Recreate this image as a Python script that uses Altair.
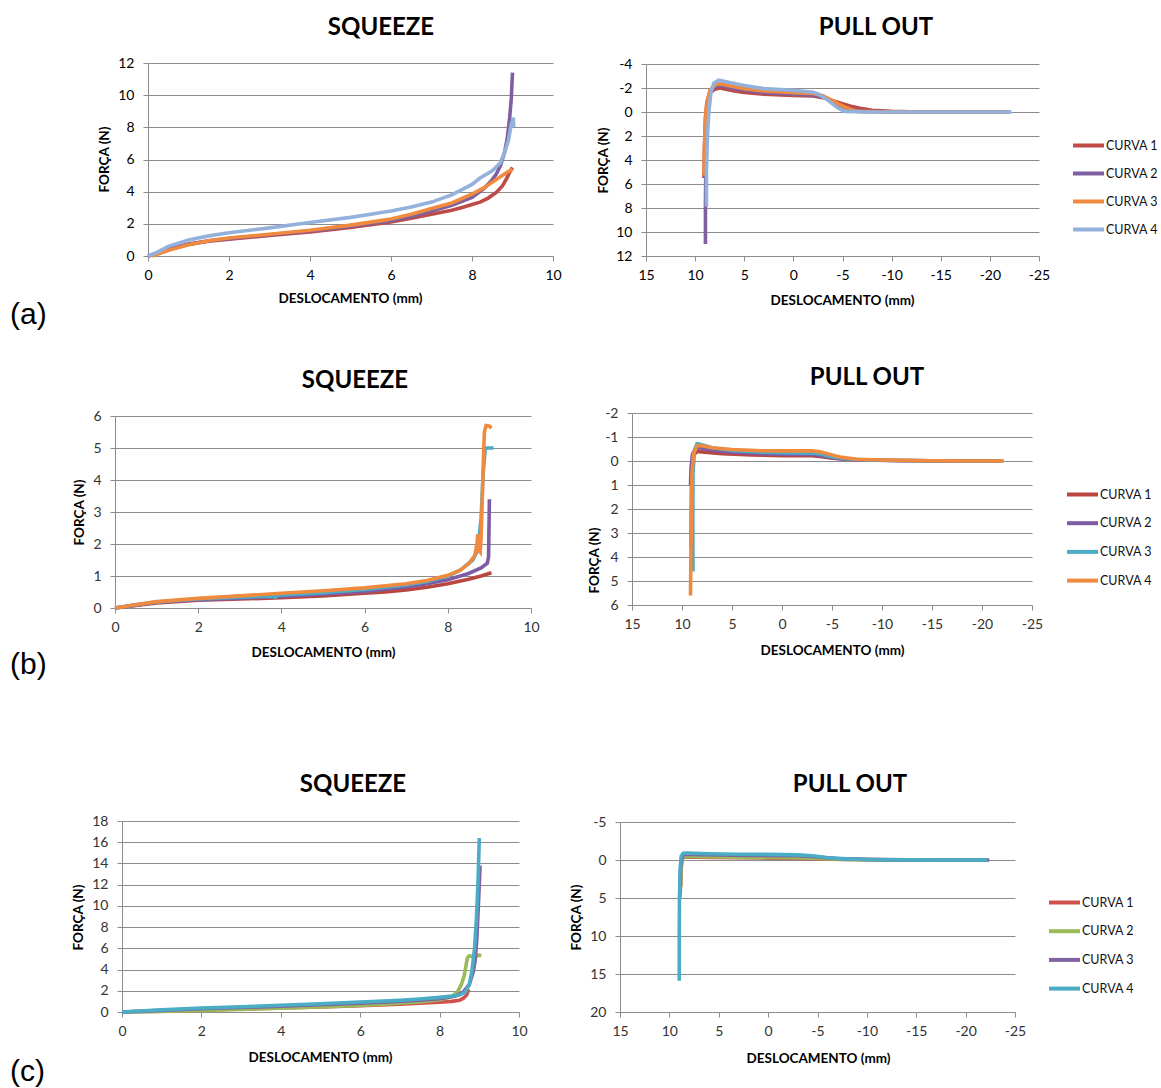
import altair as alt
import pandas as pd

W, H = 1161, 1088
FONT = "Lato"
GRID = "#8C8C8C"
NAMES = ["CURVA 1", "CURVA 2", "CURVA 3", "CURVA 4"]

# ---------------- (a) squeeze: (deslocamento mm, força N) ----------------
A_SQ_1 = [(0, 0), (0.3, 0.2), (0.6, 0.45), (1, 0.72), (1.5, 0.92), (2, 1.05), (3, 1.28), (4, 1.5),
          (5, 1.78), (5.5, 1.95), (6, 2.12), (6.5, 2.35), (7, 2.6), (7.5, 2.85), (7.8, 3.05), (8, 3.2),
          (8.2, 3.35), (8.4, 3.6), (8.6, 3.95), (8.75, 4.35), (8.85, 4.8), (8.95, 5.3), (9.0, 5.5)]
A_SQ_2 = [(0, 0), (0.3, 0.22), (0.6, 0.48), (1, 0.75), (1.5, 0.95), (2, 1.08), (3, 1.32), (4, 1.55),
          (5, 1.85), (6, 2.2), (6.5, 2.45), (7, 2.8), (7.5, 3.15), (8, 3.65), (8.3, 4.2), (8.5, 4.75),
          (8.6, 5.1), (8.7, 5.6), (8.8, 6.4), (8.87, 7.3), (8.93, 8.6), (8.97, 9.8), (9.0, 11.4)]
A_SQ_3 = [(0.1, 0), (0.5, 0.35), (1, 0.7), (1.5, 0.95), (2, 1.12), (3, 1.35), (4, 1.6), (5, 1.92),
          (5.75, 2.2), (6, 2.3), (6.5, 2.6), (7, 2.95), (7.5, 3.3), (8, 3.85), (8.3, 4.25), (8.6, 4.75),
          (8.8, 5.1), (9.0, 5.4)]
A_SQ_4 = [(0, 0), (0.2, 0.2), (0.5, 0.6), (1, 1.0), (1.5, 1.25), (2, 1.45), (3, 1.75), (4, 2.08),
          (5, 2.4), (5.5, 2.6), (6, 2.8), (6.5, 3.05), (7, 3.35), (7.5, 3.8), (8, 4.45), (8.2, 4.85),
          (8.5, 5.3), (8.7, 5.8), (8.8, 6.4), (8.9, 7.2), (8.97, 8.2), (9.02, 8.6), (9.03, 8.0)]

# ---------------- (a) pull out ----------------
A_PO_1 = [(9.1, 5.5), (9.05, 3), (8.95, 0.5), (8.8, -0.8), (8.5, -1.6), (8.0, -1.9), (7.5, -2.0),
          (6, -1.75), (5, -1.62), (3, -1.48), (0, -1.38), (-2, -1.33), (-3, -1.2), (-4, -0.95),
          (-5, -0.7), (-6, -0.45), (-7, -0.28), (-8, -0.15), (-10, -0.05), (-12, -0.02), (-22, -0.02)]
A_PO_2 = [(8.95, 11.0), (8.95, 7.8), (8.9, 4), (8.8, 1), (8.65, -0.8), (8.4, -1.7), (8.0, -2.1),
          (7.5, -2.2), (6, -1.95), (5, -1.82), (3, -1.6), (0, -1.48), (-2, -1.42), (-3, -1.25),
          (-4, -0.85), (-5, -0.45), (-6, -0.15), (-7, -0.05), (-10, 0), (-22, 0)]
A_PO_3 = [(9.1, 5.3), (9.05, 3), (8.95, 0.5), (8.8, -0.8), (8.5, -1.8), (8.0, -2.25), (7.5, -2.35),
          (6, -2.1), (5, -1.95), (3, -1.75), (0, -1.6), (-2, -1.55), (-3, -1.35), (-4, -0.95),
          (-5, -0.5), (-6, -0.15), (-6.5, -0.05), (-10, 0), (-22, 0)]
A_PO_4 = [(8.85, 7.9), (8.85, 5), (8.75, 2), (8.6, 0), (8.4, -1.6), (8.1, -2.4), (7.6, -2.65),
          (6.5, -2.45), (5, -2.2), (3, -1.95), (0, -1.8), (-2, -1.65), (-2.5, -1.5), (-3.5, -1.0),
          (-4.5, -0.35), (-5.2, -0.05), (-8, 0), (-22.2, 0)]

# ---------------- (b) squeeze ----------------
B_SQ_1 = [(0, 0), (0.5, 0.08), (1, 0.16), (2, 0.24), (3, 0.28), (4, 0.32), (5, 0.38), (6, 0.46),
          (6.5, 0.5), (7, 0.56), (7.5, 0.65), (8, 0.76), (8.5, 0.9), (8.8, 1.0), (9.05, 1.1)]
B_SQ_2 = [(0, 0), (0.5, 0.09), (1, 0.18), (2, 0.26), (3, 0.31), (4, 0.36), (5, 0.43), (6, 0.52),
          (7, 0.66), (7.5, 0.76), (8, 0.88), (8.5, 1.08), (8.8, 1.25), (8.95, 1.4), (8.98, 1.6),
          (8.99, 2.5), (9.0, 3.4)]
B_SQ_3 = [(0, 0), (0.5, 0.1), (1, 0.19), (2, 0.28), (3, 0.34), (3.8, 0.37), (3.85, 0.33), (3.9, 0.4),
          (5, 0.48), (6, 0.58), (7, 0.72), (7.5, 0.83), (8, 1.0), (8.3, 1.18), (8.6, 1.5), (8.72, 1.8),
          (8.8, 2.8), (8.85, 4.2), (8.9, 5.0), (9.1, 5.0)]
B_SQ_4 = [(0, 0), (0.5, 0.1), (1, 0.2), (2, 0.3), (3, 0.38), (4, 0.46), (5, 0.54), (6, 0.63),
          (7, 0.76), (7.5, 0.86), (8, 1.02), (8.3, 1.18), (8.5, 1.38), (8.65, 1.65), (8.7, 2.0),
          (8.72, 2.3), (8.75, 1.8), (8.78, 1.75), (8.8, 2.2), (8.83, 3.5), (8.86, 4.8), (8.88, 5.5),
          (8.92, 5.7), (9.0, 5.68), (9.05, 5.62)]

# ---------------- (b) pull out ----------------
B_PO_1 = [(9.1, 3.6), (9.05, 1.0), (9.0, 0.2), (8.85, -0.25), (8.5, -0.4), (8, -0.38), (6, -0.3),
          (3, -0.25), (0, -0.22), (-3, -0.22), (-4, -0.18), (-5, -0.12), (-7, -0.06), (-10, -0.03),
          (-15, -0.01), (-22, 0)]
B_PO_2 = [(9.15, 1.0), (9.1, 0.3), (8.95, -0.3), (8.6, -0.52), (8.2, -0.55), (7, -0.45), (5, -0.37),
          (2, -0.3), (0, -0.28), (-3, -0.27), (-4, -0.22), (-5, -0.14), (-6, -0.08), (-8, -0.04),
          (-12, -0.01), (-22, 0)]
B_PO_3 = [(8.9, 4.6), (8.92, 2.5), (8.9, 0.5), (8.75, -0.45), (8.5, -0.72), (8.2, -0.7), (7, -0.55),
          (5, -0.44), (2, -0.37), (0, -0.35), (-3, -0.33), (-4, -0.28), (-5, -0.17), (-7, -0.07),
          (-10, -0.03), (-15, -0.01), (-22, 0)]
B_PO_4 = [(9.15, 5.6), (9.12, 4.2), (9.05, 2), (9.0, 0.5), (8.85, -0.3), (8.5, -0.62), (8.2, -0.65),
          (7, -0.55), (5, -0.48), (2, -0.43), (0, -0.42), (-3, -0.42), (-3.8, -0.38), (-5, -0.25),
          (-6, -0.15), (-7.5, -0.07), (-10, -0.04), (-15, -0.01), (-22.2, 0)]

# ---------------- (c) squeeze ----------------
C_SQ_1 = [(0, 0), (1, 0.08), (2, 0.18), (3, 0.28), (4, 0.38), (5, 0.48), (6, 0.6), (7, 0.74),
          (7.5, 0.82), (8, 0.92), (8.3, 1.0), (8.5, 1.1), (8.6, 1.3), (8.68, 1.6), (8.72, 2.0),
          (8.74, 1.9)]
C_SQ_2 = [(0, 0), (1, 0.06), (2, 0.14), (3, 0.24), (4, 0.35), (5, 0.47), (6, 0.62), (7, 0.82),
          (7.5, 0.95), (8, 1.15), (8.3, 1.45), (8.45, 1.9), (8.55, 2.6), (8.62, 3.4), (8.67, 4.5),
          (8.7, 5.1), (8.75, 5.3), (8.85, 5.2), (9.0, 5.35), (9.05, 5.3)]
C_SQ_3 = [(0, 0), (1, 0.15), (2, 0.3), (3, 0.42), (4, 0.55), (5, 0.68), (6, 0.82), (7, 1.0),
          (7.5, 1.1), (8, 1.25), (8.4, 1.5), (8.6, 1.9), (8.75, 2.6), (8.85, 3.8), (8.9, 5.0),
          (8.94, 7), (8.97, 9.5), (9.0, 12), (9.02, 13.8)]
C_SQ_4 = [(0, 0), (1, 0.2), (2, 0.38), (3, 0.5), (4, 0.63), (5, 0.78), (6, 0.94), (7, 1.1),
          (7.5, 1.22), (8, 1.38), (8.3, 1.5), (8.5, 1.6), (8.65, 1.9), (8.75, 2.6), (8.82, 4),
          (8.88, 6), (8.93, 9), (8.97, 12.5), (9.0, 16.4)]

# ---------------- (c) pull out ----------------
C_PO_1 = [(8.85, 3.5), (8.8, 1), (8.7, -0.3), (8.4, -0.4), (6, -0.35), (3, -0.3), (0, -0.25),
          (-3, -0.2), (-6, -0.1), (-10, -0.03), (-15, 0), (-22, 0)]
C_PO_2 = [(8.9, 4.5), (8.85, 2), (8.75, 0), (8.5, -0.5), (7, -0.45), (5, -0.4), (2, -0.35),
          (0, -0.33), (-3, -0.3), (-5, -0.2), (-8, -0.08), (-12, -0.02), (-22, 0)]
C_PO_3 = [(8.95, 5), (8.9, 2), (8.8, 0), (8.55, -0.75), (7, -0.7), (5, -0.65), (2, -0.6),
          (0, -0.58), (-3, -0.55), (-5, -0.4), (-7, -0.2), (-10, -0.08), (-14, -0.02), (-22.4, 0)]
C_PO_4 = [(9.0, 15.9), (9.0, 10), (8.98, 5), (8.9, 1), (8.8, -0.5), (8.6, -0.88), (8.2, -0.9),
          (6, -0.82), (3, -0.76), (0, -0.74), (-3, -0.68), (-4.5, -0.55), (-6, -0.3), (-8, -0.15),
          (-10, -0.06), (-14, -0.01), (-22.2, 0)]

# series colours per row
COLORS_A = ["#BE4B48", "#7E5FA1", "#F08A3E", "#93B1DA"]
COLORS_B = ["#B9463F", "#7D5BA6", "#4BACC6", "#F08A3E"]
COLORS_C = ["#D0504D", "#9BBB59", "#8064A2", "#4BACC6"]

# axis ticks
SQ_X_TICKS = [0, 2, 4, 6, 8, 10]
PO_X_TICKS = [15, 10, 5, 0, -5, -10, -15, -20, -25]
A_SQ_Y_TICKS = [0, 2, 4, 6, 8, 10, 12]
A_PO_Y_TICKS = [-4, -2, 0, 2, 4, 6, 8, 10, 12]
B_SQ_Y_TICKS = [0, 1, 2, 3, 4, 5, 6]
B_PO_Y_TICKS = [-2, -1, 0, 1, 2, 3, 4, 5, 6]
C_SQ_Y_TICKS = [0, 2, 4, 6, 8, 10, 12, 14, 16, 18]
C_PO_Y_TICKS = [-5, 0, 5, 10, 15, 20]


def to_frame(curves):
    rows = []
    for name, pts in zip(NAMES, curves):
        for i, (d, f) in enumerate(pts):
            rows.append({"desl": d, "forca": f, "curva": name, "ordem": i})
    return pd.DataFrame(rows)


def panel(curves, colors, xdom, xticks, xpix, ydom, yticks, ypix,
          ytitle_at, xtitle_at, label_color, legend_at=None):
    """One line panel placed at absolute pixel ranges.

    xdom -> xpix (left, right); ydom (bottom value, top value) -> ypix (bottom px, top px).
    """
    left = xpix[0]
    bottom = ypix[0]
    x_axis = alt.Axis(
        orient="bottom", offset=bottom - H, values=xticks, grid=False,
        labelExpr="'' + datum.value", labelColor=label_color,
        title="DESLOCAMENTO (mm)", titleX=xtitle_at[0], titleY=xtitle_at[1] - bottom,
    )
    y_axis = alt.Axis(
        orient="left", offset=-left, values=yticks, grid=True,
        labelExpr="'' + datum.value", labelColor=label_color,
        title="FORÇA (N)", titleX=ytitle_at[0] - left, titleY=ytitle_at[1],
    )
    if legend_at is None:
        legend = None
    else:
        legend = alt.Legend(
            orient="none", legendX=legend_at[0], legendY=legend_at[1], title=None,
            symbolType="stroke", symbolSize=961, symbolStrokeWidth=4,
            labelFont=FONT, labelFontSize=12.5, labelColor="#111111", labelOffset=0,
            rowPadding=legend_at[2], padding=0,
        )
    return alt.Chart(to_frame(curves)).mark_line(strokeWidth=3.6).encode(
        x=alt.X("desl:Q", scale=alt.Scale(domain=list(xdom), range=list(xpix), nice=False, zero=False),
                axis=x_axis),
        y=alt.Y("forca:Q", scale=alt.Scale(domain=list(ydom), range=list(ypix), nice=False, zero=False),
                axis=y_axis),
        color=alt.Color("curva:N", scale=alt.Scale(domain=NAMES, range=colors), legend=legend),
        order=alt.Order("ordem:Q"),
    )


def text(txt, x, y, size, weight="bold", font=FONT, align="center"):
    return alt.Chart(pd.DataFrame({"t": [txt]})).mark_text(
        font=font, fontSize=size, fontWeight=weight, align=align, baseline="middle", color="#000000"
    ).encode(text="t:N", x=alt.value(x), y=alt.value(y))


layers = [
    panel([A_SQ_1, A_SQ_2, A_SQ_3, A_SQ_4], COLORS_A, (0, 10), SQ_X_TICKS, (148, 553),
          (0, 12), A_SQ_Y_TICKS, (256, 63), (104, 159), (350, 298), "#000000"),
    panel([A_PO_1, A_PO_2, A_PO_3, A_PO_4], COLORS_A, (15, -25), PO_X_TICKS, (646, 1039),
          (12, -4), A_PO_Y_TICKS, (256, 64), (603, 160), (842, 300), "#000000",
          legend_at=(1071, 128, 2)),
    panel([B_SQ_1, B_SQ_2, B_SQ_3, B_SQ_4], COLORS_B, (0, 10), SQ_X_TICKS, (115, 531),
          (0, 6), B_SQ_Y_TICKS, (608, 416), (79, 512), (323, 652), "#333333"),
    panel([B_PO_1, B_PO_2, B_PO_3, B_PO_4], COLORS_B, (15, -25), PO_X_TICKS, (632, 1032),
          (6, -2), B_PO_Y_TICKS, (605, 413), (594, 560), (832, 650), "#333333",
          legend_at=(1065, 477, 2.7)),
    panel([C_SQ_1, C_SQ_2, C_SQ_3, C_SQ_4], COLORS_C, (0, 10), SQ_X_TICKS, (122, 519),
          (0, 18), C_SQ_Y_TICKS, (1012, 821), (78, 917), (320, 1057), "#333333"),
    panel([C_PO_1, C_PO_2, C_PO_3, C_PO_4], COLORS_C, (15, -25), PO_X_TICKS, (620, 1015),
          (20, -5), C_PO_Y_TICKS, (1012, 822), (576, 917), (818, 1058), "#333333",
          legend_at=(1047, 885, 2.7)),
    text("SQUEEZE", 381, 28, 24), text("PULL OUT", 876, 28, 24),
    text("SQUEEZE", 355, 381, 24), text("PULL OUT", 867, 378, 24),
    text("SQUEEZE", 353, 785, 24), text("PULL OUT", 850, 785, 24),
    text("(a)", 10, 315, 30, "normal", "Liberation Sans", "left"),
    text("(b)", 10, 665, 30, "normal", "Liberation Sans", "left"),
    text("(c)", 10, 1072, 30, "normal", "Liberation Sans", "left"),
]

chart = alt.layer(*layers).resolve_scale(
    x="independent", y="independent", color="independent"
).properties(
    width=W, height=H, autosize="none", padding=0, background="white"
).configure_view(stroke=None).configure_axis(
    domainColor=GRID, tickColor=GRID, gridColor=GRID, gridWidth=1, domainWidth=1,
    tickSize=5, labelFont=FONT, labelFontSize=14, titleFont=FONT, titleFontSize=13.5,
    titleFontWeight="bold", titleColor="#000000", titleBaseline="middle", titleAlign="center",
    labelOverlap=False, labelFlush=False, labelBound=False,
).configure_axisX(labelPadding=7).configure_axisY(labelPadding=9)

chart.save("out.html", embed_options={"renderer": "svg", "actions": False})
